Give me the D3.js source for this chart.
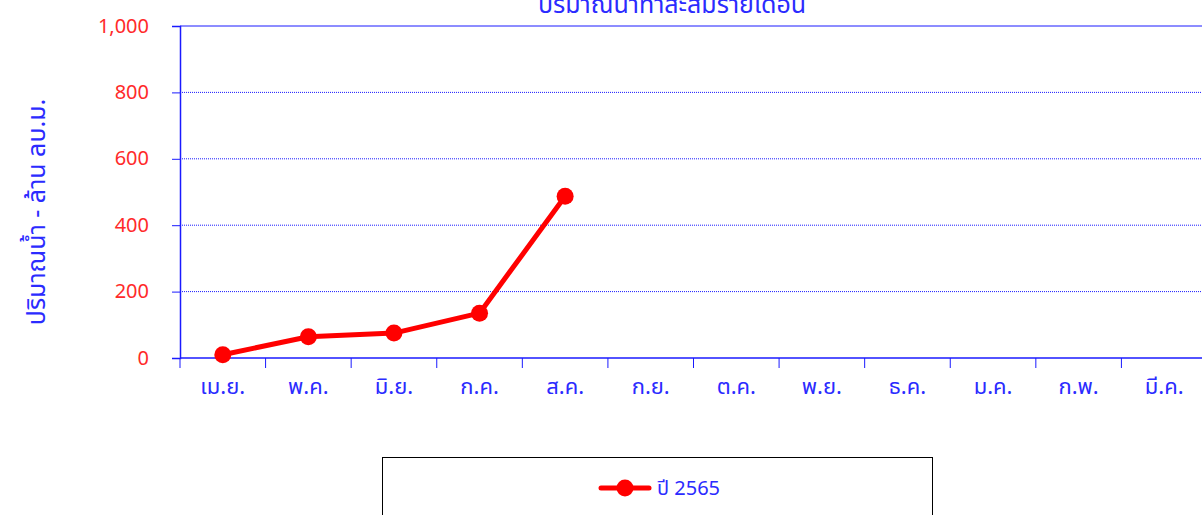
<!DOCTYPE html>
<html><head><meta charset="utf-8">
<script src="https://cdn.jsdelivr.net/npm/d3@7"></script>
<style>
html,body{margin:0;padding:0;background:#fff;overflow:hidden}
svg{display:block}
text{font-family:"Noto Sans Thai","Noto Sans","DejaVu Sans",sans-serif}
</style></head><body>
<svg id="c" width="1202" height="515"></svg>
<script>
const months = ["เม.ย.","พ.ค.","มิ.ย.","ก.ค.","ส.ค.","ก.ย.","ต.ค.","พ.ย.","ธ.ค.","ม.ค.","ก.พ.","มี.ค."];
const values2565 = [10, 64, 75, 135, 487];
const yTicks = [0, 200, 400, 600, 800, 1000];
const seriesName = "ปี 2565";
const title = "ปริมาณน้ำท่าสะสมรายเดือน";
const yTitle = "ปริมาณน้ำ - ล้าน ลบ.ม.";

const svg = d3.select("#c");
const L = 180, R = 1207, T = 26, B = 358;
const blue = "#1a1aff", red = "#ff0000", tblue = "#2b2bff", tred = "#ff2a2a";

const x = d3.scaleBand().domain(months).range([L, R]);
const y = d3.scaleLinear().domain([0, 1000]).range([B, T]);

// gridlines
svg.append("g").selectAll("line").data(yTicks.filter(d => d > 0 && d < 1000)).join("line")
  .attr("x1", L).attr("x2", R).attr("y1", d => y(d)).attr("y2", d => y(d))
  .attr("stroke", blue).attr("stroke-width", 1).attr("stroke-dasharray", "1,1");
svg.append("line").attr("x1", L).attr("x2", R).attr("y1", y(1000)).attr("y2", y(1000))
  .attr("stroke", blue).attr("stroke-width", 1);

// y axis
const ya = svg.append("g").attr("transform", `translate(${L},0)`)
  .call(d3.axisLeft(y).tickValues(yTicks).tickSize(8).tickPadding(23).tickFormat(d3.format(",")));
ya.select(".domain").attr("stroke", blue).attr("stroke-width", 1.5);
ya.selectAll(".tick line").attr("stroke", blue);
ya.selectAll(".tick text").attr("fill", tred).attr("font-size", 20).attr("dy", "0.3em");

// x axis
const xa = svg.append("g").attr("transform", `translate(0,${B})`)
  .call(d3.axisBottom(x).tickSize(0).tickPadding(20));
xa.select(".domain").remove();
xa.selectAll(".tick text").attr("fill", tblue).attr("font-size", 22);
svg.append("line").attr("x1", L).attr("x2", R).attr("y1", B).attr("y2", B).attr("stroke", blue).attr("stroke-width", 1.5);
svg.append("g").selectAll("line").data(months).join("line")
  .attr("x1", d => x(d)).attr("x2", d => x(d)).attr("y1", B).attr("y2", B + 10)
  .attr("stroke", blue).attr("stroke-width", 1);

// series
const data = values2565.map((v, i) => ({m: months[i], v}));
const line = d3.line().x(d => x(d.m) + x.bandwidth() / 2).y(d => y(d.v));
svg.append("path").datum(data).attr("d", line).attr("fill", "none")
  .attr("stroke", red).attr("stroke-width", 5).attr("stroke-linejoin", "round");
svg.append("g").selectAll("circle").data(data).join("circle")
  .attr("cx", d => x(d.m) + x.bandwidth() / 2).attr("cy", d => y(d.v)).attr("r", 8.5).attr("fill", red);

// title
svg.append("text").attr("x", 672).attr("y", 13).attr("text-anchor", "middle")
  .attr("fill", tblue).attr("font-size", 25).text(title);

// y title
svg.append("text").attr("transform", "translate(45,212) rotate(-90)").attr("text-anchor", "middle")
  .attr("fill", tblue).attr("font-size", 25).text(yTitle);

// legend
svg.append("rect").attr("x", 382.5).attr("y", 457.5).attr("width", 550).attr("height", 80)
  .attr("fill", "none").attr("stroke", "#000").attr("stroke-width", 1);
svg.append("line").attr("x1", 601).attr("x2", 625 + 24).attr("y1", 488).attr("y2", 488)
  .attr("stroke", red).attr("stroke-width", 5).attr("stroke-linecap", "round");
svg.append("circle").attr("cx", 625).attr("cy", 488).attr("r", 8.5).attr("fill", red);
svg.append("text").attr("x", 657).attr("y", 495).attr("fill", tblue).attr("font-size", 20).text(seriesName);
</script>
</body></html>
